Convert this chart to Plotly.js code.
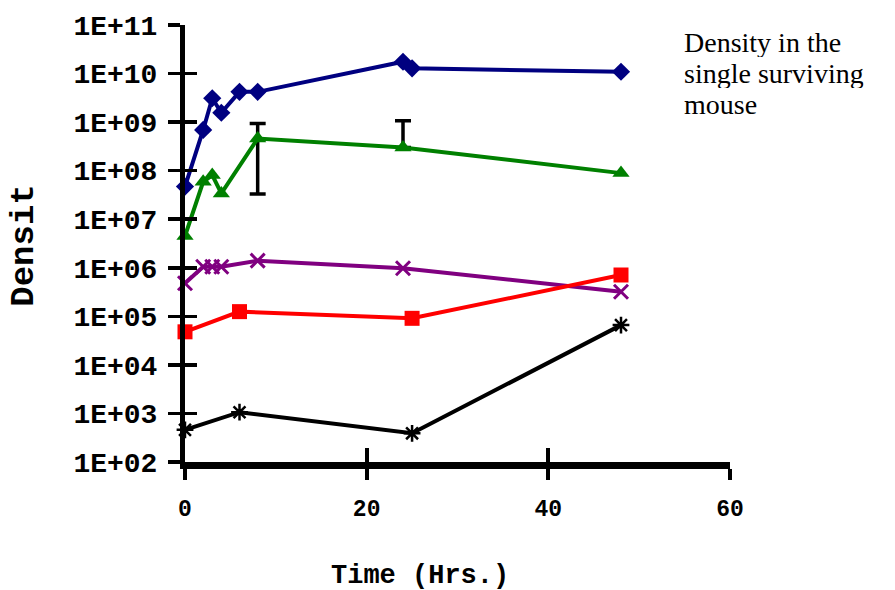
<!DOCTYPE html>
<html>
<head>
<meta charset="utf-8">
<script src="https://cdn.plot.ly/plotly-2.35.2.min.js"></script>
<style>html,body{margin:0;padding:0;background:#fff;}#chart{width:895px;height:590px;}</style>
</head>
<body>
<div id="chart"></div>
<script>
// ---- data ----
const blueX = [0, 2, 3, 4, 6, 8, 24, 25, 48];
const blueY = [4.7e7, 6.9e8, 3.1e9, 1.56e9, 4.2e9, 4.2e9, 1.75e10, 1.28e10, 1.09e10];

const greenX = [0, 2, 3, 4, 8, 24, 48];
const greenY = [4.5e6, 5.9e7, 8.1e7, 3.4e7, 4.6e8, 3.0e8, 8.9e7];

const errX = [8, 24];
const errY = [4.6e8, 3.0e8];
const errPlus = [4.8e8, 7.7e8];
const errMinus = [4.27e8, 0];

const purpleX = [0, 2, 3, 4, 8, 24, 48];
const purpleY = [4.8e5, 1.05e6, 1.05e6, 1.05e6, 1.4e6, 9.8e5, 3.2e5];

const redX = [0, 6, 25, 48];
const redY = [4.8e4, 1.25e5, 9.1e4, 7.1e5];

const blackX = [0, 6, 25, 48];
const blackY = [4.6e2, 1.06e3, 3.9e2, 6.6e4];

const xTickVals = [0, 20, 40, 60];
const yTickVals = [1e2, 1e3, 1e4, 1e5, 1e6, 1e7, 1e8, 1e9, 1e10, 1e11];
const yTickText = ["1E+02", "1E+03", "1E+04", "1E+05", "1E+06", "1E+07", "1E+08", "1E+09", "1E+10", "1E+11"];

const xTitle = "Time (Hrs.)";
const yTitle = "Densit";
const noteLines = ["Density in the", "single surviving", "mouse"];

// ---- styling ----
const mono = "Liberation Mono, Courier New, monospace";
const serif = "Liberation Serif, Times New Roman, serif";

const traces = [
  {x: blueX, y: blueY, mode: "lines+markers", cliponaxis: false,
   line: {color: "#000080", width: 4},
   marker: {symbol: "diamond", size: 14, color: "#000080"}},
  {x: errX, y: errY, mode: "markers", cliponaxis: false,
   marker: {size: 1, opacity: 0},
   error_y: {type: "data", symmetric: false, array: errPlus, arrayminus: errMinus,
             color: "#000000", thickness: 3.5, width: 8}},
  {x: greenX, y: greenY, mode: "lines+markers", cliponaxis: false,
   line: {color: "#008000", width: 4},
   marker: {symbol: "triangle-up", size: 15, color: "#008000"}},
  {x: purpleX, y: purpleY, mode: "lines+markers", cliponaxis: false,
   line: {color: "#800080", width: 4},
   marker: {symbol: "x-thin-open", size: 14, color: "#800080", line: {color: "#800080", width: 3}}},
  {x: redX, y: redY, mode: "lines+markers", cliponaxis: false,
   line: {color: "#ff0000", width: 4},
   marker: {symbol: "square", size: 15, color: "#ff0000"}},
  {x: blackX, y: blackY, mode: "lines+markers", cliponaxis: false,
   line: {color: "#000000", width: 4},
   marker: {symbol: "asterisk-open", size: 14, color: "#000000", line: {color: "#000000", width: 2.5}}},
  {x: [], y: [], xaxis: "x2", yaxis: "y2", mode: "markers"}
];

const noteY = [0.961, 0.890, 0.819];
const annotations = [
  {text: "<b>" + yTitle + "</b>", xref: "paper", yref: "paper", x: -0.2954, y: 0.495,
   textangle: -90, showarrow: false, xanchor: "center", yanchor: "middle",
   font: {family: mono, size: 34, color: "#000"}},
  {text: "<b>" + xTitle + "</b>", xref: "paper", yref: "paper", x: 0.431, y: -0.26,
   showarrow: false, xanchor: "center", yanchor: "middle", height: 28,
   font: {family: mono, size: 27, color: "#000"}}
];
noteLines.forEach((t, i) => annotations.push({
  text: t, xref: "paper", yref: "paper", x: 0.914, y: noteY[i],
  showarrow: false, xanchor: "left", yanchor: "middle", align: "left",
  borderpad: 0, height: 30,
  font: {family: serif, size: 28, color: "#000"}
}));

const layout = {
  width: 895, height: 590,
  margin: {l: 185, r: 165, t: 25, b: 128},
  paper_bgcolor: "#fff", plot_bgcolor: "#fff",
  showlegend: false,
  xaxis: {range: [0, 60], tickmode: "array", tickvals: xTickVals,
          showgrid: false, zeroline: false, showline: true, linecolor: "#000", linewidth: 7,
          ticks: "outside", ticklen: 11, tickwidth: 4, tickcolor: "#000",
          tickfont: {family: mono, size: 23, color: "#000", weight: "bold"},
          ticklabelstandoff: 8},
  yaxis: {type: "log", range: [2, 11], tickmode: "array", tickvals: yTickVals, ticktext: yTickText,
          showgrid: false, zeroline: false, showline: true, linecolor: "#000", linewidth: 5,
          ticks: "outside", ticklen: 12, tickwidth: 3.5, tickcolor: "#000",
          tickfont: {family: mono, size: 28, color: "#000", weight: "bold"},
          ticklabelstandoff: 5},
  xaxis2: {overlaying: "x", anchor: "y", side: "bottom", range: [0, 60], tickmode: "array", tickvals: xTickVals,
           showgrid: false, zeroline: false, showline: false, showticklabels: false,
           ticks: "inside", ticklen: 14, tickwidth: 4, tickcolor: "#000"},
  yaxis2: {overlaying: "y", anchor: "x", side: "left", type: "log", range: [2, 11], tickmode: "array", tickvals: yTickVals,
           showgrid: false, zeroline: false, showline: false, showticklabels: false,
           ticks: "inside", ticklen: 12, tickwidth: 3.5, tickcolor: "#000"},
  annotations: annotations,
  hovermode: false
};

Plotly.newPlot("chart", traces, layout, {displayModeBar: false, staticPlot: true});
</script>
</body>
</html>
